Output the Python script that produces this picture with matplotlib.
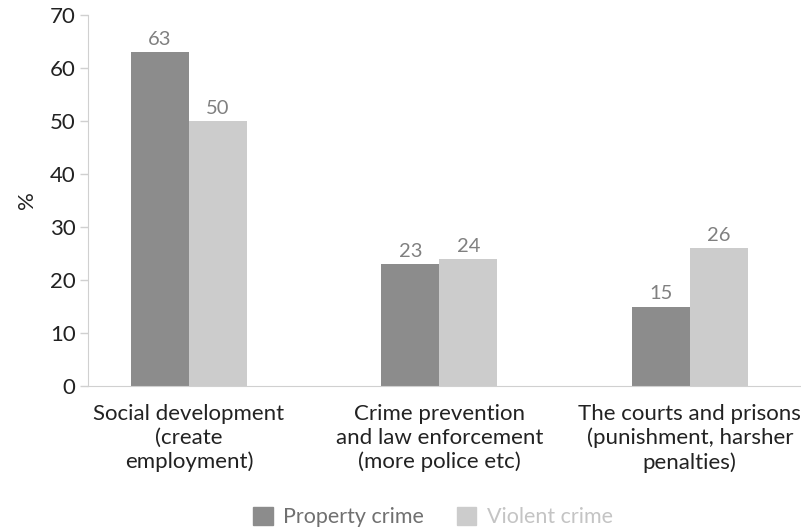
import matplotlib
matplotlib.use("Agg")
import matplotlib.pyplot as plt
import numpy as np
from matplotlib.patches import Patch

categories = [
    "Social development\n(create\nemployment)",
    "Crime prevention\nand law enforcement\n(more police etc)",
    "The courts and prisons\n(punishment, harsher\npenalties)",
]
property_crime = [63, 23, 15]
violent_crime = [50, 24, 26]
series_names = ["Property crime", "Violent crime"]
yticks = [0, 10, 20, 30, 40, 50, 60, 70]

dark = "#8c8c8c"
light = "#cccccc"
axis_grey = "#d0d0d0"

plt.rcParams["font.family"] = ["Lato", "DejaVu Sans"]

fig = plt.figure(figsize=(8.01, 5.31), dpi=100)
ax = fig.add_axes([88 / 801, 145 / 531, (800 - 88) / 801, (386 - 15) / 531])

x = np.arange(len(categories))
w = 0.2315
b1 = ax.bar(x - w / 2, property_crime, width=w, color=dark)
b2 = ax.bar(x + w / 2, violent_crime, width=w, color=light)

for bars, vals in ((b1, property_crime), (b2, violent_crime)):
    for r, v in zip(bars, vals):
        ax.annotate(f"{v}", (r.get_x() + r.get_width() / 2, v),
                    xytext=(0, 3), textcoords="offset points",
                    ha="center", va="bottom", fontsize=14.5, color="#808080")

ax.set_xlim(-0.403, 2.44)
ax.set_ylim(0, 70)
ax.set_yticks(yticks)
ax.set_yticklabels([str(t) for t in yticks], fontsize=16, color="#222222")
ax.set_xticks(x)
ax.set_xticklabels(categories, fontsize=16, color="#222222", linespacing=1.22)
ax.tick_params(axis="x", length=0, pad=13)
ax.tick_params(axis="y", length=6, color=axis_grey, width=1, pad=3)

for s in ("top", "right"):
    ax.spines[s].set_visible(False)
ax.spines["left"].set_color(axis_grey)
ax.spines["bottom"].set_color(axis_grey)

ax.set_ylabel("%", fontsize=16, color="#222222", labelpad=9)

handles = [Patch(color=dark), Patch(color=light)]
leg = fig.legend(handles, series_names, loc="center", bbox_to_anchor=(433 / 801, 1 - 517 / 531),
                 ncol=2, frameon=False, fontsize=15.5, handlelength=0.9, handleheight=0.9,
                 handletextpad=0.5, columnspacing=1.5)
leg.get_texts()[0].set_color("#707070")
leg.get_texts()[1].set_color("#c4c4c4")

fig.savefig("out.png", dpi=100)
